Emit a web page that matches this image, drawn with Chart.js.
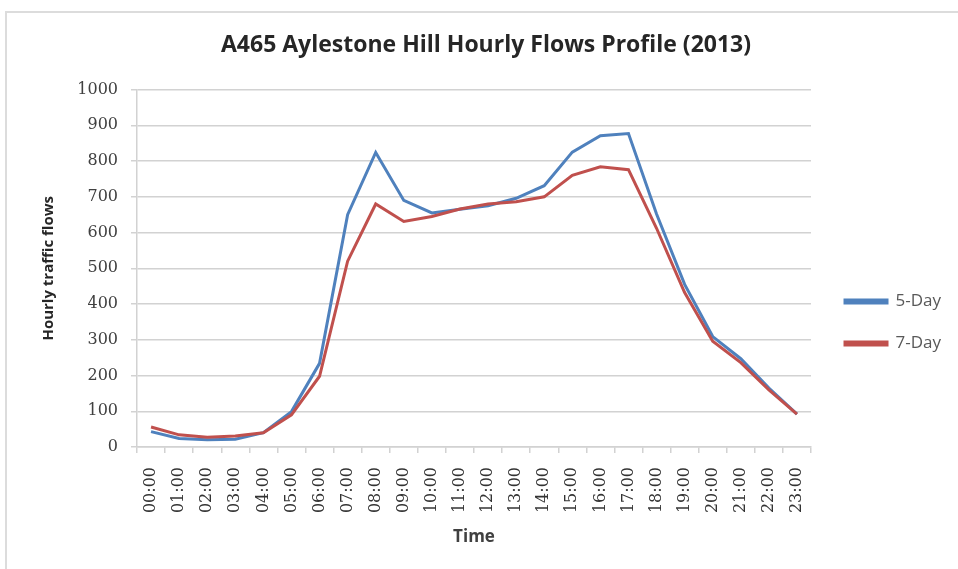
<!DOCTYPE html>
<html>
<head>
<meta charset="utf-8">
<script src="https://cdn.jsdelivr.net/npm/chart.js@4/dist/chart.umd.min.js"></script>
<style>
  body { margin: 0; background: #fff; }
  #wrap { position: relative; width: 958px; height: 569px; }
  #frame { position: absolute; left: 5px; top: 11px; right: 0; bottom: 0;
           border-top: 2px solid #dcdcdc; border-left: 2px solid #dcdcdc; pointer-events: none; }
</style>
</head>
<body>
<div id="wrap">
  <canvas id="chart" width="958" height="569"></canvas>
  <div id="frame"></div>
</div>
<script>
const hours = ['00:00','01:00','02:00','03:00','04:00','05:00','06:00','07:00','08:00','09:00','10:00','11:00',
  '12:00','13:00','14:00','15:00','16:00','17:00','18:00','19:00','20:00','21:00','22:00','23:00'];
const fiveDay = [43, 24, 20, 22, 40, 99, 234, 650, 824, 690, 655, 665, 675, 696, 731, 825, 871, 877, 652, 455, 309, 247, 165, 92];
const sevenDay = [56, 34, 27, 31, 40, 90, 198, 520, 680, 631, 645, 666, 680, 686, 700, 760, 784, 776, 612, 432, 296, 236, 160, 92];
const yTicks = { min: 0, max: 1000, step: 100 };

const tickFont = { family: 'DejaVu Serif', size: 16 };
const gridColor = '#d2d2d2';

// Excel puts the legend a little further right and centred on the whole chart,
// and its title sits over the plot rather than the canvas
const layoutNudge = {
  id: 'layoutNudge',
  afterLayout(chart) {
    const lg = chart.legend;
    lg.left += 9; lg.right += 9;
    lg.top += 38; lg.bottom += 38;
    const t = chart.titleBlock;
    t.left += 15; t.right += 15;
  }
};

new Chart(document.getElementById('chart'), {
  type: 'line',
  data: {
    labels: hours,
    datasets: [
      { label: '5-Day', data: fiveDay, borderColor: '#4F81BD', backgroundColor: '#4F81BD',
        borderWidth: 3, pointRadius: 0, tension: 0, order: 2 },
      { label: '7-Day', data: sevenDay, borderColor: '#C0504D', backgroundColor: '#C0504D',
        borderWidth: 3, pointRadius: 0, tension: 0, order: 1 }
    ]
  },
  options: {
    responsive: false,
    animation: false,
    layout: { padding: { left: 0, right: 16, top: 0, bottom: 0 } },
    plugins: {
      tooltip: { enabled: false },
      title: {
        display: true,
        text: 'A465 Aylestone Hill Hourly Flows Profile (2013)',
        color: '#262626',
        font: { family: 'Open Sans', size: 23, weight: 'bold' },
        padding: { top: 32, bottom: 30 }
      },
      legend: {
        position: 'right',
        labels: {
          boxWidth: 42,
          boxHeight: 3,
          padding: 25,
          color: '#595959',
          font: { family: 'Open Sans', size: 17 },
          sort: (a, b) => a.datasetIndex - b.datasetIndex
        }
      }
    },
    scales: {
      x: {
        offset: true,
        grid: { offset: true, drawOnChartArea: false, drawTicks: true, tickLength: 6, color: gridColor, lineWidth: 1.5 },
        border: { color: gridColor, width: 1.5 },
        ticks: { color: '#333333', font: tickFont, maxRotation: 90, minRotation: 90, autoSkip: false, padding: 14 },
        title: { display: true, text: 'Time', color: '#404040',
                 font: { family: 'Open Sans', size: 17, weight: 'bold' }, padding: { top: 0, bottom: 22 } },
        afterFit(s) { s.height = 122; }
      },
      y: {
        min: yTicks.min,
        max: yTicks.max,
        grid: { color: gridColor, lineWidth: 1.5, tickLength: 6 },
        border: { color: gridColor, width: 1.5 },
        ticks: { stepSize: yTicks.step, color: '#404040', font: tickFont, padding: 13,
                 callback: v => String(v) },
        title: { display: true, text: 'Hourly traffic flows', color: '#262626',
                 font: { family: 'Open Sans', size: 15, weight: 'bold' }, padding: { top: 40, bottom: 0 } },
        afterFit(s) { s.width = 137; }
      }
    }
  },
  plugins: [layoutNudge]
});
</script>
</body>
</html>
